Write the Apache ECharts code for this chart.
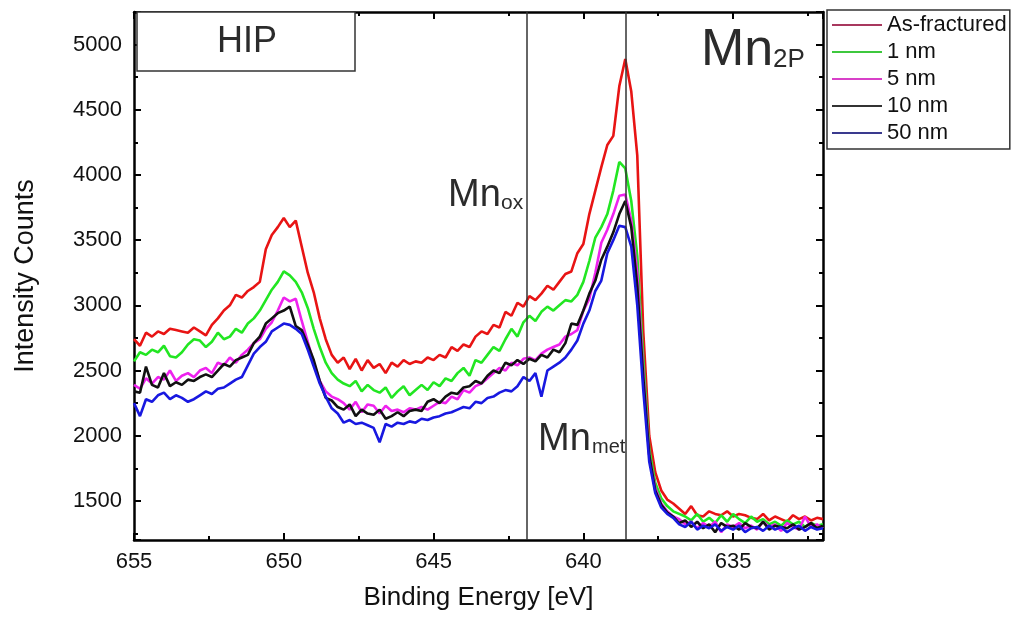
<!DOCTYPE html>
<html>
<head>
<meta charset="utf-8">
<script src="https://cdn.jsdelivr.net/npm/echarts@6/dist/echarts.min.js"></script>
<style>
  html, body { margin: 0; padding: 0; background: #fff; }
  #chart { width: 1013px; height: 623px; }
</style>
</head>
<body>
<div id="chart"></div>
<script>
// binding energy grid: 655 eV down to 632 eV, 0.2 eV step (116 points)
const E_START = 655;
const E_STEP = 0.2;
const N_POINTS = 116;

const seriesNames = ['As-fractured', '1 nm', '5 nm', '10 nm', '50 nm'];

// intensity counts, index 0 = 655 eV
const asFractured = [
  2740, 2690, 2790, 2760, 2800, 2780, 2820, 2810, 2800, 2790,
  2830, 2800, 2770, 2850,
  2900, 2960, 3000, 3080, 3060, 3110, 3140, 3180, 3430, 3540, 3600, 3670, 3600, 3650, 3450, 3250, 3100, 2900, 2740, 2620, 2560, 2600,
  2510, 2590, 2500, 2580, 2520, 2550, 2480, 2560, 2530, 2580, 2550, 2570,
  2560, 2600, 2580, 2620, 2600, 2680, 2650, 2700, 2680, 2760, 2800, 2780,
  2850, 2830, 2950, 2920, 3020, 2990,
  3070, 3040, 3090, 3150, 3120, 3180, 3240, 3260, 3400, 3470,
  3700, 3880, 4060, 4230, 4300, 4680, 4890, 4640, 4150,
  2800, 2000, 1720, 1580, 1510, 1480,
  1440, 1400, 1460, 1390, 1380, 1420, 1400, 1390, 1420, 1380, 1400, 1390, 1370, 1360, 1400, 1350, 1380, 1360, 1340, 1390, 1360, 1380, 1350, 1370, 1360
];
const nm1 = [
  2570, 2640, 2620, 2660, 2640, 2690, 2610, 2600, 2640, 2700,
  2740, 2730, 2680, 2720, 2790, 2740, 2760, 2820, 2790, 2860,
  2900, 2960, 3040, 3120, 3180, 3260, 3230, 3180, 3100, 2980, 2820, 2680, 2560, 2480, 2430, 2400,
  2380, 2420, 2340, 2390, 2350, 2330, 2370, 2290, 2340, 2380, 2310, 2350,
  2390, 2350, 2410, 2380, 2440, 2420, 2480, 2520, 2460, 2580, 2560, 2620,
  2680, 2650, 2740, 2820, 2760, 2870,
  2920, 2880, 2950, 2990, 2960, 3000, 3040, 3030, 3080, 3180,
  3340, 3520, 3600, 3700, 3880, 4100, 4050, 3800, 3380,
  2600, 1900, 1640, 1520, 1460, 1420,
  1400, 1380, 1350, 1400, 1340, 1370, 1330, 1390, 1340, 1400, 1360, 1330, 1380, 1340, 1360, 1320, 1340, 1310, 1350, 1320, 1340, 1300, 1330, 1310, 1320
];
const nm5 = [
  2390, 2360, 2440, 2400, 2450, 2430, 2500, 2420, 2460, 2480,
  2450, 2500, 2520, 2480, 2560, 2540, 2600, 2560, 2620, 2660,
  2710, 2740, 2820, 2870, 2960, 3060, 3030, 3050, 2880, 2720, 2560, 2420, 2340, 2300, 2280, 2250,
  2200, 2260, 2180, 2240, 2230, 2170, 2230, 2190, 2200, 2180, 2210, 2200,
  2220, 2200, 2230, 2260, 2250, 2300, 2280, 2350, 2330, 2380, 2400, 2440,
  2480, 2520, 2500, 2560, 2540, 2590,
  2600, 2580, 2630, 2660, 2680, 2700, 2760, 2780, 2810, 2960,
  3050, 3250, 3480, 3580, 3700, 3840, 3850, 3650, 3250,
  2500, 1850, 1600, 1480, 1420, 1380,
  1360, 1320, 1340, 1290, 1330, 1300, 1340, 1260, 1320, 1300, 1330, 1290, 1310, 1280, 1340, 1300, 1320, 1270, 1330, 1300, 1280, 1380, 1300, 1320, 1290
];
const nm10 = [
  2340, 2330, 2530, 2390, 2370, 2480, 2380, 2410, 2390, 2430,
  2420, 2450, 2470, 2450, 2500, 2550, 2530, 2580, 2600, 2620,
  2710, 2760, 2860, 2900, 2940, 2960, 2990, 2840, 2810, 2700, 2580, 2420, 2290, 2270, 2220, 2200,
  2240, 2150, 2200, 2170, 2160, 2200, 2130, 2150, 2180, 2150, 2190, 2200,
  2190, 2260, 2280, 2250, 2300, 2330, 2320, 2370, 2380, 2420, 2400, 2460,
  2500, 2480, 2560, 2540, 2580, 2550,
  2590, 2570, 2620, 2600, 2660, 2640, 2710, 2860, 2850, 2960,
  3090, 3190, 3350, 3450, 3560, 3700, 3800, 3600, 3150,
  2450, 1850, 1580, 1470, 1410, 1380,
  1330, 1350, 1300, 1340, 1290, 1320, 1260, 1330, 1300, 1310, 1280, 1330, 1300, 1290, 1340, 1280, 1310, 1300, 1290, 1320, 1280, 1300, 1330, 1290, 1310
];
const nm50 = [
  2250, 2150, 2280, 2260, 2310, 2330, 2280, 2310, 2290, 2260,
  2280, 2310, 2340, 2320, 2360, 2370, 2400, 2430, 2450, 2540,
  2630, 2680, 2720, 2800, 2830, 2860, 2850, 2820, 2780, 2660, 2530, 2400, 2300, 2210, 2170, 2100,
  2120, 2090, 2100, 2080, 2060, 1950, 2090, 2070, 2100, 2090, 2110, 2100,
  2130, 2120, 2140, 2150, 2170, 2180, 2200, 2220, 2210, 2260, 2250, 2290,
  2300, 2330, 2350, 2340, 2380, 2450,
  2420, 2480, 2300, 2500, 2530, 2560, 2600, 2660, 2730, 2860,
  2960, 3110, 3190, 3400, 3500, 3610, 3600, 3450, 3000,
  2350, 1800, 1560, 1450, 1400, 1370,
  1320, 1300, 1340, 1280, 1310, 1290, 1320, 1270, 1300, 1280, 1310, 1260, 1290, 1300, 1270, 1310, 1280, 1300, 1260, 1290, 1310, 1270, 1300, 1280, 1290
];

// reference lines (Mn oxide / Mn metal)
const refLines = [641.9, 638.6];

const lineColors = ['#e81414', '#22e622', '#ee22ee', '#111111', '#1818e0'];
const legendColors = ['#a8385e', '#3ec83e', '#d840c8', '#333333', '#3a3a8e'];

const FONT = '"Liberation Sans", Arial, sans-serif';

const energies = [];
for (let i = 0; i < N_POINTS; i++) energies.push(+(E_START - i * E_STEP).toFixed(1));

const allValues = [asFractured, nm1, nm5, nm10, nm50];

const axisLine = { show: true, lineStyle: { color: '#000', width: 2.5 } };
const axisTick = { show: true, inside: true, length: 7, lineStyle: { color: '#000', width: 2 } };
const minorTick = { show: true, inside: true, splitNumber: 2, length: 4, lineStyle: { color: '#000', width: 2 } };

function xAx(main) {
  return {
    type: 'value', min: 632, max: 655, inverse: true, splitNumber: 5,
    position: main ? 'bottom' : 'top',
    name: main ? 'Binding Energy [eV]' : '',
    nameLocation: 'middle', nameGap: 45,
    nameTextStyle: { fontFamily: FONT, fontSize: 26, color: '#111' },
    axisLine, axisTick, minorTick,
    axisLabel: {
      show: main, margin: 11, fontFamily: FONT, fontSize: 22, color: '#111',
      formatter: v => (v % 5 === 0 ? String(v) : '')
    },
    splitLine: { show: false }
  };
}
function yAx(main) {
  return {
    type: 'value', min: 1200, max: 5250, splitNumber: 8,
    position: main ? 'left' : 'right',
    name: main ? 'Intensity Counts' : '',
    nameLocation: 'middle', nameGap: 95,
    nameTextStyle: { fontFamily: FONT, fontSize: 27, color: '#111' },
    axisLine, axisTick, minorTick,
    axisLabel: {
      show: main, margin: 12, fontFamily: FONT, fontSize: 22, color: '#111',
      formatter: v => (v % 500 === 0 ? String(v) : '')
    },
    splitLine: { show: false }
  };
}

function txt(text, x, y, size) {
  return {
    type: 'text', z: 100,
    style: {
      text, x, y, fill: '#2b2b2b',
      font: size + 'px ' + FONT,
      align: 'left', verticalAlign: 'middle',
      textAlign: 'left', textVerticalAlign: 'middle'
    }
  };
}

const chart = echarts.init(document.getElementById('chart'), null, { renderer: 'canvas' });

chart.setOption({
  animation: false,
  backgroundColor: '#fff',
  grid: { left: 134, right: 190, top: 12, bottom: 83 },
  legend: {
    orient: 'vertical', left: 827, top: 10,
    icon: 'rect', itemWidth: 50, itemHeight: 2, itemGap: 5,
    padding: [4, 3, 5, 5],
    borderColor: '#333', borderWidth: 1.5,
    textStyle: { fontFamily: FONT, fontSize: 22, color: '#111' },
    data: seriesNames.map((n, i) => ({ name: n, itemStyle: { color: legendColors[i] } }))
  },
  xAxis: [xAx(true), xAx(false)],
  yAxis: [yAx(true), yAx(false)],
  series: seriesNames.map((name, k) => ({
    name, type: 'line', xAxisIndex: 0, yAxisIndex: 0,
    showSymbol: false, symbol: 'none',
    color: lineColors[k],
    lineStyle: { color: lineColors[k], width: 2.6 },
    data: energies.map((e, i) => [e, allValues[k][i]]),
    markLine: k === seriesNames.length - 1 ? {
      silent: true, symbol: ['none', 'none'],
      label: { show: false },
      lineStyle: { color: '#333', width: 1.5, type: 'solid' },
      data: refLines.map(v => ({ xAxis: v }))
    } : undefined
  })),
  graphic: [
    { type: 'rect', z: 100, shape: { x: 137, y: 12, width: 218, height: 59 },
      style: { fill: '#fff', stroke: '#333', lineWidth: 1.5 } },
    { type: 'text', z: 101,
      style: { text: 'HIP', x: 247, y: 42, fill: '#2b2b2b', font: '36px ' + FONT,
        align: 'center', verticalAlign: 'middle', textAlign: 'center', textVerticalAlign: 'middle' } },
    txt('Mn', 701, 51, 52),
    txt('2P', 773, 60, 26),
    txt('Mn', 448, 196, 38),
    txt('ox', 501, 203, 21),
    txt('Mn', 538, 440, 38),
    txt('met', 592, 447, 20)
  ]
});
</script>
</body>
</html>
